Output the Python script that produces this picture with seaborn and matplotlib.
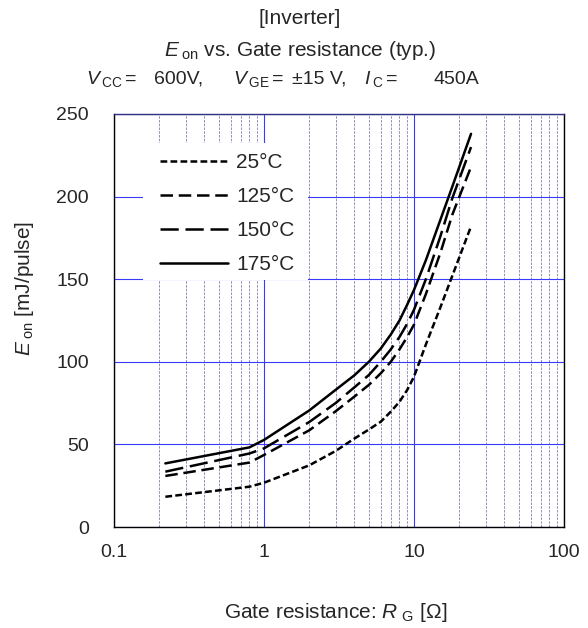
import numpy as np
import pandas as pd
import matplotlib
matplotlib.use("Agg")
import matplotlib.pyplot as plt
from matplotlib.patches import Rectangle
from matplotlib.ticker import FixedLocator, MultipleLocator, NullFormatter, FixedFormatter
import seaborn as sns

# ---- data ----
rg = [0.22, 0.8, 1.0, 2.0, 3.0, 4.0, 5.0, 6.0, 7.0, 8.0, 9.0, 10.0, 12.0, 15.0, 18.0, 24.0]
eon_25 = [18.3, 24.4, 26.8, 37.3, 46.0, 53.5, 59.0, 63.7, 69.8, 75.8, 82.9, 91.0, 110.5, 133.0, 152.0, 182.0]
eon_125 = [30.9, 39.0, 43.6, 58.5, 70.0, 78.9, 86.0, 93.0, 100.0, 107.5, 115.0, 122.5, 141.0, 166.0, 189.0, 218.0]
eon_150 = [33.5, 44.5, 47.6, 63.5, 75.0, 84.5, 92.0, 100.0, 107.5, 115.0, 123.0, 131.5, 150.0, 176.0, 199.0, 230.0]
eon_175 = [38.5, 48.2, 52.7, 70.5, 83.0, 91.8, 100.0, 108.0, 116.5, 125.0, 134.5, 143.5, 161.5, 186.0, 206.0, 238.0]
temps = ["25°C", "125°C", "150°C", "175°C"]
x_ticks = [0.1, 1, 10, 100]
x_ticklabels = ["0.1", "1", "10", "100"]
y_ticks = [0, 50, 100, 150, 200, 250]

df = pd.concat([
    pd.DataFrame({"R": rg, "E": e, "T": t})
    for e, t in zip([eon_25, eon_125, eon_150, eon_175], temps)
], ignore_index=True)

sns.set_style("white")
plt.rcParams["font.family"] = ["Liberation Sans", "DejaVu Sans"]
plt.rcParams["mathtext.fontset"] = "custom"
plt.rcParams["mathtext.rm"] = "Liberation Sans"
plt.rcParams["mathtext.it"] = "Liberation Sans:italic"
plt.rcParams["mathtext.default"] = "regular"

FS = 15
TFS = 14
W, H = 588, 628
fig = plt.figure(figsize=(W / 100, H / 100), dpi=100)
ax = fig.add_axes([114 / W, (H - 527) / H, 450 / W, 413 / H])

dashes = {"25°C": (2.7, 1.3), "125°C": (5.0, 2.3), "150°C": (7.3, 2.7), "175°C": ""}
palette = {t: "black" for t in temps}
sns.lineplot(data=df, x="R", y="E", hue="T", style="T", hue_order=temps, style_order=temps,
             dashes=dashes, palette=palette, linewidth=1.8, ax=ax, zorder=5)

ax.set_xscale("log")
ax.set_xlim(0.1, 100)
ax.set_ylim(0, 250)

# grid
ax.xaxis.set_major_locator(FixedLocator(x_ticks))
ax.xaxis.set_major_formatter(FixedFormatter(x_ticklabels))
minors = [m * d for d in [0.1, 1, 10] for m in range(2, 10)]
ax.xaxis.set_minor_locator(FixedLocator(minors))
ax.xaxis.set_minor_formatter(NullFormatter())
ax.yaxis.set_major_locator(FixedLocator(y_ticks))
ax.yaxis.set_minor_locator(MultipleLocator(10))

ax.grid(True, which="major", axis="both", color="#3a3aff", linewidth=0.8, zorder=1)
ax.grid(True, which="minor", axis="x", color="#8080b0", linewidth=0.6, linestyle=(0, (3, 1.5)), zorder=1)
ax.set_axisbelow(True)

ax.tick_params(axis="x", which="both", length=0, pad=12, labelsize=TFS)
ax.tick_params(axis="y", which="major", length=0, pad=18, labelsize=TFS)
ax.tick_params(axis="y", which="minor", direction="in", length=4, width=0.6, color="#888888")
for s in ax.spines.values():
    s.set_color("black")
    s.set_linewidth(1.0)
ax.spines["top"].set_color("#303080")

ax.set_xlabel("")
ax.set_ylabel("")

# legend background (white box)
ax.add_patch(Rectangle((0.0644, 0.598), 0.367, 0.332, transform=ax.transAxes,
                       facecolor="white", edgecolor="none", zorder=3))
handles, labels = ax.get_legend_handles_labels()
leg = ax.legend(handles, labels, loc="upper left", bbox_to_anchor=(0.102, 0.906),
                frameon=False, borderaxespad=0, borderpad=0, fontsize=FS,
                handlelength=3.27, handletextpad=0.38, labelspacing=0.73)
leg.set_zorder(6)

# titles
fig.text(300 / W, 1 - 19 / H, "[Inverter]", ha="center", va="center", fontsize=FS)
fig.text(300 / W, 1 - 51 / H, r"$\mathit{E}\,{}_{\rm on}$ vs. Gate resistance (typ.)",
         ha="center", va="center", fontsize=FS)
cond = [(86, r"$\mathit{V}\,{}_{\rm CC}\,$="), (154, "600V,"), (233, r"$\mathit{V}\,{}_{\rm GE}\,$="),
        (292, "±15 V,"), (364, r"$\mathit{I}\,{}_{\rm C}\,$="), (434, "450A")]
for xp, s in cond:
    fig.text(xp / W, 1 - 84 / H, s, ha="left", va="baseline", fontsize=14)

fig.text(336 / W, 1 - 612 / H, r"Gate resistance: $\mathit{R}\;{}_{\rm G}$ [Ω]",
         ha="center", va="center", fontsize=FS)
fig.text(25 / W, 1 - 288 / H, r"$\mathit{E}\,{}_{\rm on}$ [mJ/pulse]", rotation=90,
         ha="center", va="center", fontsize=FS)

fig.savefig("out.png", dpi=100)
